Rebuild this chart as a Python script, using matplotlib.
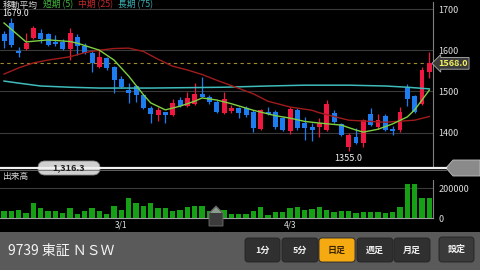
import matplotlib.pyplot as plt
import matplotlib.transforms as mtransforms
from matplotlib.patches import FancyBboxPatch, Polygon, Rectangle
import numpy as np

plt.rcParams['font.family'] = ['Noto Sans CJK JP', 'DejaVu Sans']

# 日足データ (読み取り値)
opens = [1639, 1666, 1598, 1603, 1630, 1642, 1639, 1620, 1620, 1603,
         1632, 1610, 1593, 1559, 1581, 1559, 1530, 1503, 1513, 1491,
         1459, 1442, 1450, 1442, 1479, 1464, 1469, 1493, 1486, 1474,
         1447, 1452, 1459, 1459, 1450, 1408, 1450, 1450, 1435, 1404,
         1455, 1423, 1413, 1413, 1406, 1447, 1421, 1365, 1389, 1374,
         1445, 1413, 1440, 1408, 1406, 1508, 1489, 1469, 1547]
highs = [1647, 1679, 1608, 1642, 1659, 1651, 1642, 1637, 1627, 1654,
         1639, 1617, 1600, 1600, 1583, 1561, 1537, 1520, 1515, 1493,
         1464, 1462, 1450, 1481, 1486, 1498, 1520, 1535, 1491, 1479,
         1498, 1467, 1462, 1464, 1455, 1457, 1462, 1455, 1438, 1462,
         1459, 1438, 1423, 1435, 1479, 1455, 1423, 1399, 1411, 1433,
         1459, 1445, 1445, 1416, 1462, 1518, 1491, 1559, 1595]
lows = [1605, 1608, 1583, 1600, 1627, 1617, 1610, 1610, 1600, 1576,
        1588, 1591, 1547, 1557, 1552, 1496, 1508, 1472, 1474, 1457,
        1423, 1428, 1423, 1440, 1462, 1462, 1467, 1486, 1469, 1447,
        1445, 1447, 1435, 1438, 1401, 1406, 1442, 1408, 1404, 1396,
        1406, 1382, 1379, 1389, 1404, 1423, 1391, 1355, 1372, 1365,
        1416, 1408, 1404, 1394, 1401, 1464, 1447, 1467, 1532]
closes = [1623, 1613, 1593, 1617, 1654, 1627, 1613, 1615, 1603, 1642,
          1610, 1593, 1569, 1583, 1557, 1527, 1510, 1496, 1491, 1459,
          1445, 1455, 1442, 1472, 1464, 1484, 1493, 1487, 1474, 1450,
          1481, 1459, 1447, 1442, 1411, 1455, 1445, 1413, 1406, 1457,
          1411, 1411, 1406, 1423, 1469, 1425, 1394, 1394, 1374, 1430,
          1418, 1430, 1406, 1404, 1450, 1481, 1450, 1552, 1568]
volumes = [46000, 48000, 57000, 35000, 99000, 71000, 48000, 48000, 35000, 71000,
           26000, 46000, 71000, 48000, 30000, 81000, 53000, 133000, 99000, 81000,
           99000, 71000, 71000, 48000, 53000, 76000, 81000, 81000, 48000, 50000,
           57000, 30000, 30000, 30000, 48000, 76000, 23000, 41000, 41000, 69000,
           76000, 53000, 64000, 76000, 53000, 41000, 46000, 46000, 35000, 41000,
           41000, 41000, 37000, 41000, 76000, 232000, 232000, 133000, 133000]

# 移動平均 (読み取り点)
ma5_idx = [0, 3, 6, 9, 10, 13, 15, 17, 19, 20, 22, 24, 26, 27, 29, 31, 34, 37,
           39, 41, 43, 46, 48, 49, 51, 53, 55, 56, 57, 58]
ma5 = [1666, 1620, 1625, 1621, 1617, 1600, 1576, 1537, 1492, 1472, 1455, 1464,
       1476, 1484, 1479, 1470, 1454, 1441, 1435, 1427, 1423, 1418, 1406, 1401,
       1408, 1421, 1438, 1455, 1479, 1503]
ma25_idx = [0, 2, 4, 6, 9, 11, 13, 15, 17, 19, 21, 23, 25, 27, 29, 31, 34, 36,
            39, 42, 43, 47, 52, 56, 58]
ma25 = [1542, 1557, 1569, 1576, 1584, 1594, 1600, 1604, 1605, 1597, 1578, 1561,
        1552, 1541, 1527, 1514, 1494, 1476, 1462, 1454, 1448, 1430, 1425, 1430, 1439]
ma75_idx = [0, 2, 5, 9, 13, 20, 30, 36, 41, 47, 52, 55, 58]
ma75 = [1525, 1520, 1513, 1510, 1508, 1508, 1510, 1513, 1515, 1515, 1513, 1510, 1506]

date_pos = [16, 39]
date_labels = ['3/1', '4/3']
price_ticks = [1400, 1500, 1600, 1700]
last_price = 1568.0
high_price = 1679.0
low_price = 1355.0
low_idx = 47
bottom_price = 1316.3
buttons = ['1分', '5分', '日足', '週足', '月足']

RED = '#ee1840'
BLUE = '#1c7cf0'

fig = plt.figure(figsize=(4.8, 2.7), dpi=100, facecolor='black')


def px_axes(x0, y0, x1, y1, **kw):
    return fig.add_axes([x0 / 480, 1 - y1 / 270, (x1 - x0) / 480, (y1 - y0) / 270], **kw)


n = len(closes)
x = np.arange(n)
xlim = (-0.55, 58.5)

# ローソク足
ax = px_axes(0, 2, 433, 167)
ax.set_facecolor('black')
ax.set_xlim(*xlim)
ax.set_ylim(bottom_price, 1717)
o = np.array(opens)
c = np.array(closes)
cols = [RED if cc >= oo else BLUE for oo, cc in zip(o, c)]
ax.vlines(x, lows, highs, colors=cols, linewidth=0.9, zorder=3)
ax.bar(x, np.maximum(np.abs(c - o), 1.5), bottom=np.minimum(o, c), width=0.68,
       color=cols, zorder=4)
ax.plot(ma75_idx, ma75, color='#3fbcbc', linewidth=1.1, zorder=5)
ax.plot(ma25_idx, ma25, color='#a01c1c', linewidth=1.0, zorder=5)
ax.plot(ma5_idx, ma5, color='#7ed040', linewidth=1.0, zorder=6)
ax.axhline(last_price, color='#a08a30', linewidth=0.8, dashes=(3, 3), zorder=2)

ax.yaxis.tick_right()
ax.set_yticks(price_ticks)
ax.set_yticklabels([str(t) for t in price_ticks])
ax.tick_params(axis='y', length=0, pad=4, labelsize=6.5, labelcolor='#e0e0e0')
ax.set_xticks([])
ax.grid(axis='y', color='#3a3a3a', linewidth=0.8)
for s in ['top', 'bottom', 'left']:
    ax.spines[s].set_visible(False)
ax.spines['right'].set_color('#808080')

trans = mtransforms.blended_transform_factory(ax.transAxes, ax.transData)
ax.text(1.012, last_price, f'{last_price:.1f}', transform=trans, fontsize=6.5,
        color='#f4f060', fontweight='bold', va='center', ha='left', clip_on=False,
        bbox=dict(boxstyle='larrow,pad=0.15', fc='#3a3a3a', ec='#b0b0b0', lw=0.6))
ax.text(low_idx, low_price - 6, f'{low_price:.1f}', fontsize=6.5, color='#f0f0f0',
        ha='center', va='top')

# 出来高
axv = px_axes(0, 180, 433, 218)
axv.set_facecolor('black')
axv.set_xlim(*xlim)
axv.set_ylim(0, 257600)
axv.bar(x, volumes, width=0.72, color='#16a016', zorder=3)
axv.yaxis.tick_right()
axv.set_yticks([0, 200000])
axv.set_yticklabels(['0', '200000'])
axv.tick_params(axis='y', length=0, pad=4, labelsize=6.5, labelcolor='#e0e0e0')
axv.set_xticks(date_pos)
axv.set_xticklabels(date_labels)
axv.tick_params(axis='x', length=0, pad=2, labelsize=6, labelcolor='#e0e0e0')
axv.grid(axis='y', color='#3a3a3a', linewidth=0.8)
axv.spines['top'].set_visible(False)
axv.spines['left'].set_visible(False)
axv.spines['right'].set_color('#808080')
axv.spines['bottom'].set_color('#a0a0a0')

# 画面の部品
ui = px_axes(0, 0, 480, 270, zorder=10)
ui.set_xlim(0, 480)
ui.set_ylim(270, 0)
ui.axis('off')
ui.patch.set_alpha(0)

ui.text(3, 5, '移動平均', fontsize=6.3, color='#d8d8d8', va='center')
ui.text(43, 5, '短期 (5)', fontsize=6.3, color='#40b83c', va='center')
ui.text(78, 5, '中期 (25)', fontsize=6.3, color='#c8282c', va='center')
ui.text(118, 5, '長期 (75)', fontsize=6.3, color='#3cb0b4', va='center')
ui.text(2, 13, f'{high_price:.1f}', fontsize=6.3, color='#f0f0f0', va='center')

# 区切り線
ui.plot([0, 446], [168, 168], color='#f0f0f0', linewidth=1.6)
ui.plot([0, 446], [169.5, 169.5], color='#707070', linewidth=0.6)
ui.add_patch(FancyBboxPatch((38, 161), 62, 14, boxstyle='round,pad=0,rounding_size=7',
                            fc='#cfcfcf', ec='#888888', lw=0.6))
ui.text(69, 168, f'{bottom_price:,.1f}', fontsize=6.5, color='#202020', fontweight='bold',
        ha='center', va='center')
ui.add_patch(Polygon([[446, 168], [453, 160], [480, 160], [480, 176], [453, 176]],
                     closed=True, fc='#8a8a8a', ec='#c0c0c0', lw=0.6))
ui.text(2, 176, '出来高', fontsize=6.3, color='#d8d8d8', va='center')

# カーソル
ui.add_patch(Polygon([[209, 226], [209, 213], [216, 206], [223, 213], [223, 226]],
                     closed=True, fc='#3c3c3c', ec='#707070', lw=0.6))
ui.add_patch(Polygon([[210, 213], [216, 207], [222, 213]], closed=True, fc='#8c9c8c', lw=0))

# 下部バー
ui.add_patch(Rectangle((0, 232), 480, 38, fc='#5a5a5a', lw=0))
ui.text(8, 251, '9739 東証 ＮＳＷ', fontsize=10, color='#f4f4f4', va='center')
bx = [245, 282, 319, 357, 394]
bw = [35, 36, 36, 36, 36]
for i, lab in enumerate(buttons):
    sel = lab == '日足'
    ui.add_patch(FancyBboxPatch((bx[i], 238), bw[i], 24,
                                boxstyle='round,pad=0,rounding_size=3',
                                fc='#f4aa10' if sel else '#303030',
                                ec='#222222', lw=0.6))
    ui.text(bx[i] + bw[i] / 2, 250.5, lab, fontsize=6.5, fontweight='bold',
            color='#3a2400' if sel else '#f0f0f0', ha='center', va='center')
ui.add_patch(FancyBboxPatch((439, 237), 35, 25, boxstyle='round,pad=0,rounding_size=3',
                            fc='#3a3a3a', ec='#222222', lw=0.6))
ui.text(456.5, 249.5, '設定', fontsize=6.5, fontweight='bold', color='#f0f0f0',
        ha='center', va='center')

plt.savefig('out.png', dpi=100, facecolor='black')
